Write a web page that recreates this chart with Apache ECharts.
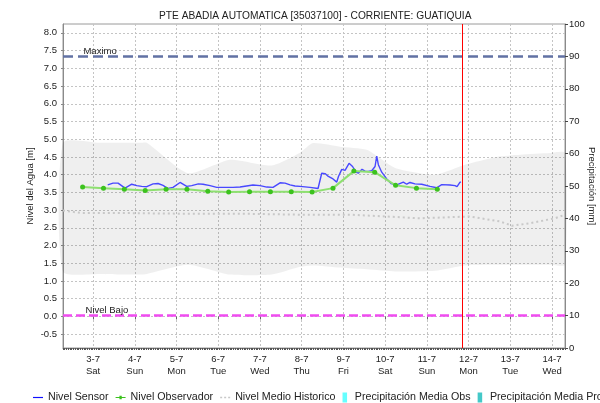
<!DOCTYPE html>
<html>
<head>
<meta charset="utf-8">
<script src="https://cdn.jsdelivr.net/npm/echarts@6/dist/echarts.min.js"></script>
<style>
  html, body { margin: 0; padding: 0; background: #fff; }
  #chart { width: 600px; height: 403px; }
</style>
</head>
<body>
<div id="chart"></div>
<script>
// Time is expressed in days of July (3 = 3-7 00:00)
const dayTicks = [3, 4, 5, 6, 7, 8, 9, 10, 11, 12, 13, 14];
const dayLabels = ['3-7', '4-7', '5-7', '6-7', '7-7', '8-7', '9-7', '10-7', '11-7', '12-7', '13-7', '14-7'];
const weekDays = ['Sat', 'Sun', 'Mon', 'Tue', 'Wed', 'Thu', 'Fri', 'Sat', 'Sun', 'Mon', 'Tue', 'Wed'];
const levelTicks = [-0.5, 0, 0.5, 1, 1.5, 2, 2.5, 3, 3.5, 4, 4.5, 5, 5.5, 6, 6.5, 7, 7.5, 8];

// Nivel Sensor [m]
const sensorDays = [3.352, 3.479, 3.599, 3.767, 3.927, 4.047, 4.167, 4.287, 4.438, 4.558, 4.677, 4.797, 4.917,
  5.085, 5.245, 5.365, 5.523, 5.636, 5.804, 5.964, 6.355, 6.523, 6.834, 7.002, 7.163, 7.313, 7.481, 7.601,
  7.721, 7.841, 7.961, 8.200, 8.392, 8.480, 8.560, 8.639, 8.751, 8.840, 8.879, 8.960, 9.039, 9.135, 9.219,
  9.302, 9.357, 9.446, 9.518, 9.597, 9.679, 9.758, 9.798, 9.837, 9.918, 10.038, 10.141, 10.278, 10.436,
  10.517, 10.596, 10.716, 10.877, 11.076, 11.236, 11.356, 11.555, 11.675, 11.723, 11.795, 11.819];
const sensorLevels = [3.71, 3.76, 3.76, 3.62, 3.73, 3.69, 3.67, 3.66, 3.74, 3.75, 3.70, 3.61, 3.64,
  3.78, 3.67, 3.69, 3.74, 3.73, 3.69, 3.64, 3.64, 3.65, 3.71, 3.69, 3.65, 3.64, 3.77, 3.76,
  3.71, 3.68, 3.67, 3.64, 3.61, 4.04, 4.03, 3.95, 3.88, 3.79, 3.94, 4.15, 4.12, 4.32, 4.23,
  4.07, 4.04, 4.15, 4.10, 4.09, 4.11, 4.23, 4.52, 4.28, 4.07, 3.88, 3.75, 3.71, 3.79,
  3.73, 3.78, 3.74, 3.73, 3.67, 3.63, 3.72, 3.71, 3.69, 3.66, 3.79, 3.79];

// Nivel Observador [m], readings at 6:00 and 18:00
const observerDays = [2.75, 3.25, 3.75, 4.25, 4.75, 5.25, 5.75, 6.25, 6.75, 7.25, 7.75, 8.25,
  8.75, 9.25, 9.75, 10.25, 10.75, 11.25];
const observerLevels = [3.65, 3.62, 3.59, 3.55, 3.59, 3.59, 3.53, 3.51, 3.52, 3.52, 3.52, 3.51,
  3.62, 4.10, 4.07, 3.70, 3.62, 3.59];

// Nivel Medio Historico [m]
const meanDays = [2.28, 2.70, 3.50, 5.00, 6.50, 7.96, 9.16, 10.84, 12.03, 12.75, 13.04, 13.47, 14.07, 14.31];
const meanLevels = [2.99, 2.92, 2.92, 2.90, 2.90, 2.87, 2.87, 2.77, 2.82, 2.68, 2.56, 2.63, 2.77, 2.87];

// Historic range envelope [m]
const rangeDays = [2.28, 3.17, 4.13, 4.29, 5.28, 6.28, 7.28, 7.96, 8.27, 8.92, 9.56, 10.24, 11.20, 11.91, 12.67, 13.23, 13.95, 14.31];
const rangeMax = [4.90, 4.90, 4.90, 4.90, 4.04, 4.42, 4.26, 4.62, 4.89, 4.79, 4.70, 4.19, 4.00, 4.28, 4.50, 4.56, 4.61, 4.61];
const rangeMin = [1.27, 1.20, 1.18, 1.20, 1.46, 1.18, 1.18, 1.40, 1.44, 1.38, 1.33, 1.27, 1.29, 1.44, 1.46, 1.46, 1.46, 1.46];

// Precipitation [mm] (no records in the period)
const precipObsDays = [];
const precipObs = [];
const precipProDays = [];
const precipPro = [];

// Reference levels [m] and current time marker
const levelMax = 7.35;
const levelLow = 0.02;
const nowDay = 11.85;

const xMin = 2.28, xMax = 14.31;
const FONT = 'Liberation Sans, Arial, sans-serif';

const zip = (xs, ys) => xs.map((x, i) => [x, ys[i]]);

const chart = echarts.init(document.getElementById('chart'), null, { renderer: 'canvas' });

const dotted = { color: '#c4c4c4', type: [2, 2], width: 1 };

// Envelope between historic min and max, drawn as one polygon
function renderRange(params, api) {
  if (params.dataIndex !== 0) return null;
  const pts = [];
  for (let i = 0; i < rangeDays.length; i++) pts.push(api.coord([rangeDays[i], rangeMax[i]]));
  for (let i = rangeDays.length - 1; i >= 0; i--) pts.push(api.coord([rangeDays[i], rangeMin[i]]));
  return {
    type: 'polygon',
    shape: { points: pts, smooth: 0.2 },
    style: { fill: 'rgba(0,0,0,0.062)' }
  };
}

chart.setOption({
  animation: false,
  backgroundColor: '#ffffff',
  title: {
    text: 'PTE ABADIA AUTOMATICA [35037100] - CORRIENTE: GUATIQUIA',
    left: 154, top: 6,
    textStyle: { fontFamily: FONT, fontSize: 10.2, fontWeight: 'normal', color: '#222' }
  },
  legend: {
    left: 28, top: 387, width: 900,
    itemWidth: 10, itemHeight: 10, itemGap: 7,
    textStyle: { fontFamily: FONT, fontSize: 10.7, color: '#222' },
    data: [
      { name: 'Nivel Sensor', icon: 'path://M0,0h12v1.4h-12z', itemStyle: { color: '#1010ff' } },
      { name: 'Nivel Observador', icon: 'path://M0,3.6h12v1.2h-12z M4.6,2.2h2.8v4h-2.8z', itemStyle: { color: '#3cc21e' } },
      { name: 'Nivel Medio Historico', icon: 'path://M0,0h2v1.6h-2z M4,0h2v1.6h-2z M8,0h2v1.6h-2z', itemStyle: { color: '#c8c8c8' } },
      { name: 'Precipitación Media Obs', icon: 'path://M0,0h5v11h-5z' },
      { name: 'Precipitación Media Pro', icon: 'path://M0,0h5v11h-5z' }
    ]
  },
  grid: {
    left: 63, right: 35, top: 24, bottom: 55,
    outerBoundsMode: 'none',
    show: true, borderColor: '#9a9a9a', borderWidth: 1, backgroundColor: '#ffffff'
  },
  xAxis: [
    {
      type: 'value', min: xMin, max: xMax, position: 'bottom',
      axisLine: { show: false },
      axisTick: { show: true, customValues: dayTicks, length: 3, lineStyle: { color: '#666' } },
      axisLabel: {
        customValues: dayTicks, margin: 5, lineHeight: 12,
        fontFamily: FONT, fontSize: 9.5, color: '#222',
        formatter: v => {
          const i = dayTicks.indexOf(Math.round(v));
          return dayLabels[i] + '\n' + weekDays[i];
        }
      },
      splitLine: { show: true, lineStyle: dotted }
    },
    {
      // hourly ticks along the time axis
      type: 'value', min: 0, max: (xMax - xMin) * 24, interval: 1, position: 'bottom',
      axisLine: { show: true, lineStyle: { color: '#777', width: 1 } },
      axisTick: { show: true, length: 2, lineStyle: { color: '#555' } },
      axisLabel: { show: false },
      splitLine: { show: false }
    }
  ],
  yAxis: [
    {
      type: 'value', min: -0.89, max: 8.25, position: 'left',
      name: 'Nivel del Agua [m]', nameLocation: 'middle', nameGap: 28, nameMoveOverlap: false,
      nameTextStyle: { fontFamily: FONT, fontSize: 9.5, color: '#222' },
      axisLine: { show: true, lineStyle: { color: '#8a8a8a' } },
      axisTick: { show: true, customValues: levelTicks, length: 2, lineStyle: { color: '#888' } },
      axisLabel: {
        customValues: levelTicks, margin: 6,
        fontFamily: FONT, fontSize: 9.5, color: '#222',
        formatter: v => v.toFixed(1)
      },
      splitLine: { show: true, lineStyle: dotted }
    },
    {
      type: 'value', min: 0, max: 100, interval: 10, position: 'right',
      name: 'Precipitación [mm]', nameLocation: 'middle', nameGap: 22, nameRotate: -90, nameMoveOverlap: false,
      nameTextStyle: { fontFamily: FONT, fontSize: 9.5, color: '#222' },
      axisLine: { show: true, lineStyle: { color: '#8a8a8a' } },
      axisTick: { show: true, length: 3, lineStyle: { color: '#444' } },
      axisLabel: { margin: 4, fontFamily: FONT, fontSize: 9.5, color: '#222' },
      splitLine: { show: false }
    }
  ],
  series: [
    {
      name: 'range', type: 'custom', silent: true, z: 1,
      renderItem: renderRange,
      encode: { x: 0, y: [1, 2] },
      data: rangeDays.map((d, i) => [d, rangeMin[i], rangeMax[i]])
    },
    {
      name: 'Nivel Medio Historico', type: 'line', symbol: 'none',
      itemStyle: { color: '#c8c8c8' },
      lineStyle: { color: '#c8c8c8', width: 2, type: [2, 3] },
      data: zip(meanDays, meanLevels), z: 2
    },
    {
      name: 'Precipitación Media Obs', type: 'bar', yAxisIndex: 1,
      itemStyle: { color: '#66ffff' }, data: zip(precipObsDays, precipObs)
    },
    {
      name: 'Precipitación Media Pro', type: 'bar', yAxisIndex: 1,
      itemStyle: { color: '#44c8c8' }, data: zip(precipProDays, precipPro)
    },
    {
      name: 'Nivel Sensor', type: 'line', symbol: 'none',
      itemStyle: { color: '#0000ff' },
      lineStyle: { color: '#4848ff', width: 1.4 },
      data: zip(sensorDays, sensorLevels), z: 3,
      markLine: {
        silent: true, symbol: 'none', animation: false,
        label: { show: false },
        data: [
          { yAxis: levelMax, lineStyle: { color: '#6272a4', width: 2.5, type: [10, 5] } },
          { yAxis: levelLow, lineStyle: { color: '#f04cf0', width: 2.5, type: [9, 4] } },
          { xAxis: nowDay, lineStyle: { color: '#ff0000', width: 1, type: 'solid' } }
        ]
      },
      markPoint: {
        silent: true, symbol: 'circle', symbolSize: 0,
        label: {
          show: true, position: [0, 0], align: 'left', verticalAlign: 'bottom',
          fontFamily: FONT, fontSize: 9.5, color: '#222', padding: 0
        },
        data: [
          { coord: [2.77, levelMax], value: 'Maximo', label: { formatter: 'Maximo' } },
          { coord: [2.82, levelLow], value: 'Nivel Bajo', label: { formatter: 'Nivel Bajo' } }
        ]
      }
    },
    {
      name: 'Nivel Observador', type: 'line',
      symbol: 'circle', symbolSize: 5,
      itemStyle: { color: '#3cc21e' },
      lineStyle: { color: '#8ee070', width: 2 },
      data: zip(observerDays, observerLevels), z: 4
    }
  ]
});
</script>
</body>
</html>
